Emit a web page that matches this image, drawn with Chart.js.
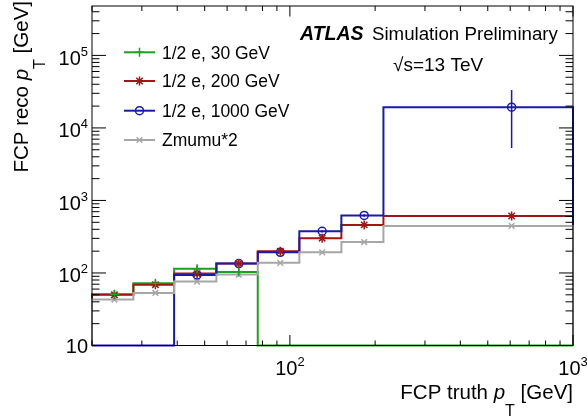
<!DOCTYPE html>
<html>
<head>
<meta charset="UTF-8">
<title>FCP reco pT vs truth pT</title>
<script src="https://cdn.jsdelivr.net/npm/chart.js"></script>
<style>
    html, body { margin: 0; padding: 0; background: #fff; }
    #grafico { display: block; }
</style>
</head>
<body>
<canvas id="grafico" width="587" height="417"></canvas>
<script>
    // bin edges of the truth pT histogram (GeV)
    const binEdges = [20, 28, 39, 55, 77, 108, 152, 214, 1000];
    const seriesNames = ["1/2 e, 30 GeV", "1/2 e, 200 GeV", "1/2 e, 1000 GeV", "Zmumu*2"];
    // mean reco pT per bin, 0 = empty bin
    const e30 = [51, 72, 114, 103, 0, 0, 0, 0];
    const e30Err = [4, 5, 12, 12, 0, 0, 0, 0];
    const e200 = [50, 69, 98, 135, 199, 302, 460, 610];
    const e200Err = [3, 4, 5, 6, 8, 14, 20, 40];
    const e1000 = [0, 0, 94, 135, 193, 376, 621, 19300];
    const e1000Err = [0, 0, 5, 6, 8, 15, 25, 14000];
    const zmumu = [43, 53, 76, 95, 138, 193, 267, 446];
    const zmumuErr = [1, 1, 1, 2, 2, 3, 4, 6];
    const yMin = 10, yMax = 4.8e5;
    const xMin = 20, xMax = 1000;

    const FONT = '"Liberation Sans", Arial, Helvetica, sans-serif';

    const estilos = [
        { cor: '#1f9f1f', ponto: 'cross', raio: 4.5, vals: e30, errs: e30Err },
        { cor: '#a01616', ponto: 'star', raio: 4.5, vals: e200, errs: e200Err },
        { cor: '#1a1aa8', ponto: 'circle', raio: 4, vals: e1000, errs: e1000Err },
        { cor: '#a6a6a6', ponto: 'crossRot', raio: 4, vals: zmumu, errs: zmumuErr }
    ];

    function centro(i) {
        return (binEdges[i] + binEdges[i + 1]) / 2;
    }

    function pontosDegrau(vals) {
        const pts = [{ x: binEdges[0], y: yMin }];
        vals.forEach((v, i) => pts.push({ x: binEdges[i], y: v > 0 ? v : yMin }));
        const ult = vals[vals.length - 1];
        pts.push({ x: binEdges[binEdges.length - 1], y: ult > 0 ? ult : yMin });
        pts.push({ x: binEdges[binEdges.length - 1], y: yMin });
        return pts;
    }

    const datasets = [];
    estilos.forEach((s, k) => {
        datasets.push({
            label: seriesNames[k],
            data: pontosDegrau(s.vals),
            stepped: 'before',
            borderColor: s.cor,
            borderWidth: 2,
            pointRadius: 0,
            fill: false,
            clip: 4,
            order: 4 - k
        });
    });
    estilos.forEach((s, k) => {
        datasets.push({
            label: seriesNames[k] + ' pts',
            data: s.vals.map((v, i) => ({ x: centro(i), y: v > 0 ? v : null })),
            showLine: false,
            pointStyle: s.ponto,
            pointRadius: s.raio,
            pointBorderWidth: 1.5,
            pointBorderColor: s.cor,
            pointBackgroundColor: 'rgba(0,0,0,0)',
            clip: 4,
            order: 0
        });
    });

    // vertical error bars at the bin centres
    const barrasErro = {
        id: 'barrasErro',
        beforeDatasetsDraw(chart) {
            const { ctx, chartArea: a, scales: { x, y } } = chart;
            ctx.save();
            ctx.beginPath();
            ctx.rect(a.left, a.top, a.right - a.left, a.bottom - a.top);
            ctx.clip();
            ctx.lineWidth = 1.5;
            estilos.forEach(s => {
                ctx.strokeStyle = s.cor;
                s.vals.forEach((v, i) => {
                    if (v <= 0 || !s.errs[i]) return;
                    const px = x.getPixelForValue(centro(i));
                    const lo = Math.max(v - s.errs[i], yMin);
                    ctx.beginPath();
                    ctx.moveTo(px, y.getPixelForValue(lo));
                    ctx.lineTo(px, y.getPixelForValue(v + s.errs[i]));
                    ctx.stroke();
                });
            });
            ctx.restore();
        }
    };

    function valoresTicks(min, max) {
        const out = [];
        for (let e = 0; e <= 6; e++) {
            for (let m = 1; m <= 9; m++) {
                const v = m * Math.pow(10, e);
                if (v >= min * 0.999 && v <= max * 1.001) out.push({ v, major: m === 1 });
            }
        }
        return out;
    }

    // draws text made of runs {t, font, dy}
    function textoRuns(ctx, runs, x, y, alinhar) {
        let total = 0;
        runs.forEach(r => { ctx.font = r.font; r.w = ctx.measureText(r.t).width; total += r.w; });
        let cx = alinhar === 'right' ? x - total : alinhar === 'center' ? x - total / 2 : x;
        ctx.textAlign = 'left';
        ctx.textBaseline = 'alphabetic';
        runs.forEach(r => {
            ctx.font = r.font;
            ctx.fillText(r.t, cx, y + (r.dy || 0));
            cx += r.w;
        });
    }

    function rotuloPot(exp) {
        if (exp === 1) return [{ t: '10', font: '20px ' + FONT, dy: 0 }];
        return [{ t: '10', font: '20px ' + FONT, dy: 0 }, { t: String(exp), font: '13px ' + FONT, dy: -9 }];
    }

    const moldura = {
        id: 'moldura',
        afterDatasetsDraw(chart) {
            const { ctx, chartArea: a, scales: { x, y } } = chart;
            ctx.save();
            ctx.strokeStyle = '#000';
            ctx.fillStyle = '#000';
            ctx.lineWidth = 1;
            ctx.strokeRect(a.left, a.top, a.right - a.left, a.bottom - a.top);

            ctx.beginPath();
            valoresTicks(xMin, xMax).forEach(t => {
                const px = x.getPixelForValue(t.v);
                const len = t.major ? 10.5 : 5;
                ctx.moveTo(px, a.bottom); ctx.lineTo(px, a.bottom - len);
                ctx.moveTo(px, a.top); ctx.lineTo(px, a.top + len);
            });
            valoresTicks(yMin, yMax).forEach(t => {
                const py = y.getPixelForValue(t.v);
                const len = t.major ? 14 : 7.5;
                ctx.moveTo(a.left, py); ctx.lineTo(a.left + len, py);
                ctx.moveTo(a.right, py); ctx.lineTo(a.right - len, py);
            });
            ctx.stroke();

            // tick labels
            valoresTicks(xMin, xMax).filter(t => t.major).forEach(t => {
                const exp = Math.round(Math.log10(t.v));
                textoRuns(ctx, rotuloPot(exp), x.getPixelForValue(t.v), 375, 'center');
            });
            valoresTicks(yMin, yMax).filter(t => t.major).forEach(t => {
                const exp = Math.round(Math.log10(t.v));
                const py = y.getPixelForValue(t.v);
                textoRuns(ctx, rotuloPot(exp), 88, py + (exp === 1 ? 7 : 9.5), 'right');
            });

            // axis titles
            const fTit = '20.5px ' + FONT;
            const tituloX = [
                { t: 'FCP truth ', font: fTit }, { t: 'p', font: 'italic ' + fTit },
                { t: 'T', font: '16px ' + FONT, dy: 17 }, { t: ' [GeV]', font: fTit }
            ];
            textoRuns(ctx, tituloX, 573, 399, 'right');
            ctx.save();
            ctx.translate(28, 1);
            ctx.rotate(-Math.PI / 2);
            const tituloY = [
                { t: 'FCP reco ', font: fTit }, { t: 'p', font: 'italic ' + fTit },
                { t: 'T', font: '16px ' + FONT, dy: 17 }, { t: ' [GeV]', font: fTit }
            ];
            textoRuns(ctx, tituloY, 0, 0, 'right');
            ctx.restore();

            // ATLAS label
            textoRuns(ctx, [{ t: 'ATLAS', font: 'bold italic 19.5px ' + FONT }], 300, 40, 'left');
            textoRuns(ctx, [{ t: 'Simulation Preliminary', font: '18.7px ' + FONT }], 372, 40, 'left');
            textoRuns(ctx, [{ t: '\u221As=13 TeV', font: '19px ' + FONT }], 393, 71, 'left');

            // legend
            const linhas = [52.3, 81, 110.7, 140];
            estilos.forEach((s, k) => {
                const ly = linhas[k];
                ctx.strokeStyle = s.cor;
                ctx.lineWidth = 2;
                ctx.beginPath();
                ctx.moveTo(124, ly); ctx.lineTo(155, ly);
                ctx.stroke();
                ctx.lineWidth = 1.5;
                ctx.fillStyle = 'rgba(0,0,0,0)';
                Chart.helpers.drawPoint(ctx, { pointStyle: s.ponto, radius: s.raio, rotation: 0, borderWidth: 1.5 }, 139.5, ly);
                ctx.fillStyle = '#000';
                textoRuns(ctx, [{ t: seriesNames[k], font: '17.5px ' + FONT }], 162, ly + 6.3, 'left');
            });
            ctx.restore();
        }
    };

    const ctx = document.getElementById('grafico').getContext('2d');
    const grafico = new Chart(ctx, {
        type: 'line',
        data: { datasets },
        options: {
            responsive: false,
            animation: false,
            devicePixelRatio: 1,
            layout: { padding: { left: 92, right: 14, top: 2, bottom: 71.5 } },
            scales: {
                x: { type: 'logarithmic', min: xMin, max: xMax, display: false },
                y: { type: 'logarithmic', min: yMin, max: yMax, display: false }
            },
            plugins: { legend: { display: false }, tooltip: { enabled: false } },
            elements: { line: { tension: 0 } }
        },
        plugins: [barrasErro, moldura]
    });
</script>
</body>
</html>
